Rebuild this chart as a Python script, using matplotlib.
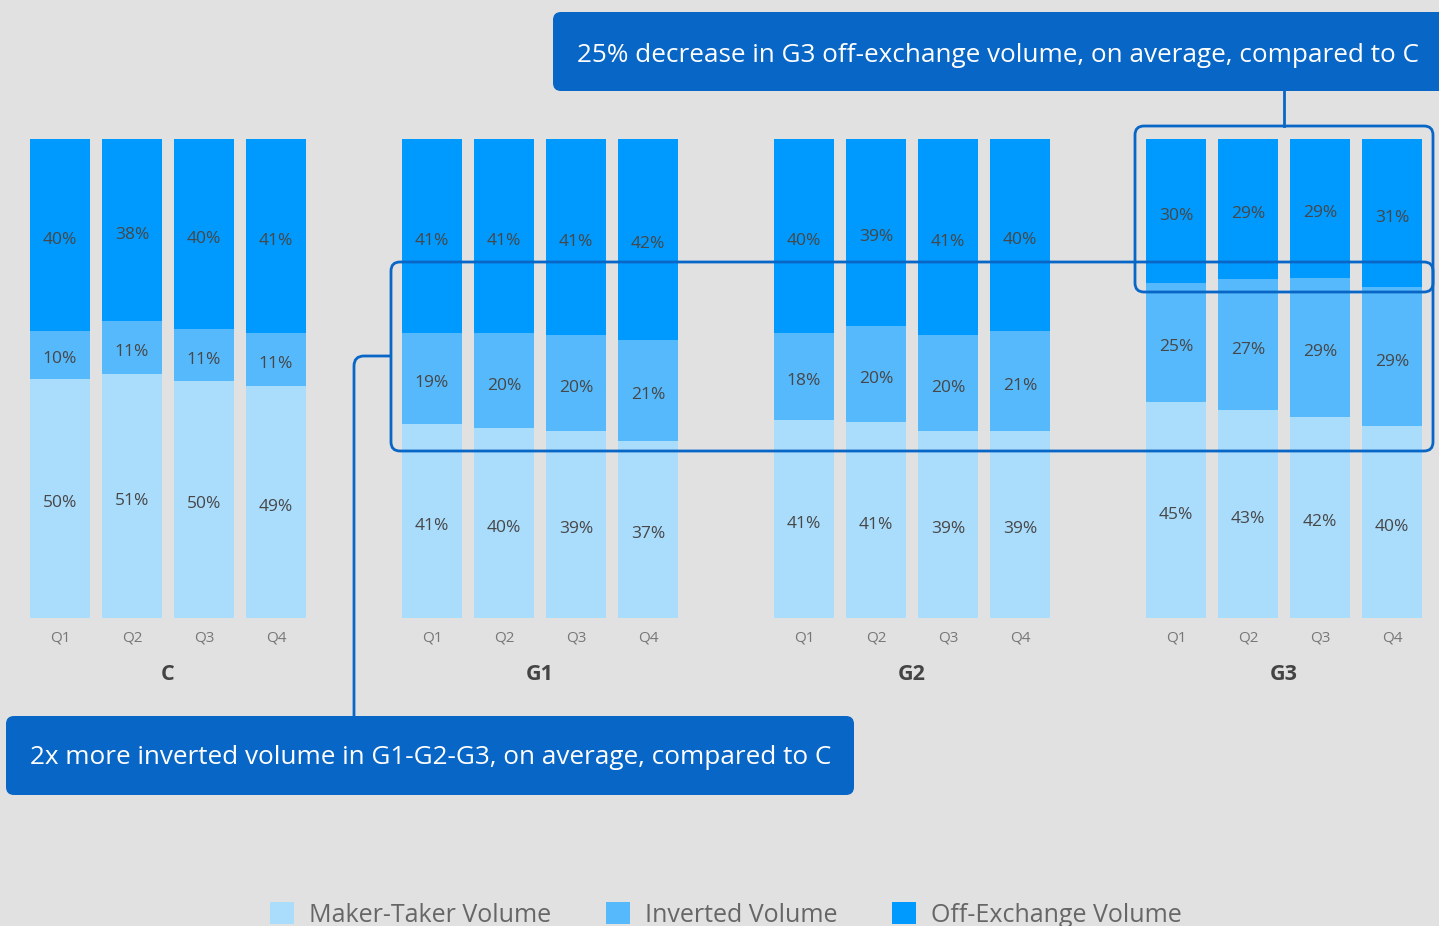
import matplotlib.pyplot as plt
from matplotlib.patches import FancyBboxPatch, PathPatch, Patch
from matplotlib.path import Path
import numpy as np

plt.rcParams["font.family"] = ["Open Sans", "DejaVu Sans"]

# ── data ──────────────────────────────────────────────────────────────────────
groups = ["C", "G1", "G2", "G3"]
quarters = ["Q1", "Q2", "Q3", "Q4"]
maker_taker = [[50, 51, 50, 49], [41, 40, 39, 37], [41, 41, 39, 39], [45, 43, 42, 40]]
inverted = [[10, 11, 11, 11], [19, 20, 20, 21], [18, 20, 20, 21], [25, 27, 29, 29]]
off_exchange = [[40, 38, 40, 41], [41, 41, 41, 42], [40, 39, 41, 40], [30, 29, 29, 31]]
series_names = ["Maker-Taker Volume", "Inverted Volume", "Off-Exchange Volume"]
series_colors = ["#aadcfc", "#56b9fc", "#0099fd"]

note_top = "25% decrease in G3 off-exchange volume, on average, compared to C"
note_bottom = "2x more inverted volume in G1-G2-G3, on average, compared to C"

bg = "#e1e1e1"
box_blue = "#0866c6"
label_color = "#474747"

# ── figure ────────────────────────────────────────────────────────────────────
W, H = 1439, 926
fig = plt.figure(figsize=(W / 100, H / 100), dpi=100, facecolor=bg)
ax = fig.add_axes([0, 0, 1, 1])
ax.set_facecolor(bg)

# bar layout: 1 unit = bar pitch, groups separated by a wider gap
group_step = 372 / 72
bar_width = 60 / 72
ax.set_xlim(-60 / 72, (W - 60) / 72)
ax.set_ylim(-(H - 618) / 4.79, 618 / 4.79)
ax.axis("off")

for g, name in enumerate(groups):
    xs = g * group_step + np.arange(len(quarters))
    stacks = np.array([maker_taker[g], inverted[g], off_exchange[g]], dtype=float)
    shares = stacks / stacks.sum(axis=0) * 100
    bottom = np.zeros(len(quarters))
    for s in range(3):
        ax.bar(xs, shares[s], bar_width, bottom=bottom, color=series_colors[s],
               label=series_names[s] if g == 0 else None)
        for x, b, h, v in zip(xs, bottom, shares[s], stacks[s]):
            ax.text(x, b + h / 2 - 0.6, f"{int(v)}%", ha="center",
                    va="center_baseline", fontsize=12.5, color=label_color)
        bottom += shares[s]
    for x, q in zip(xs, quarters):
        ax.text(x, -3.8, q, ha="center", va="center_baseline", fontsize=11,
                color="#777777")
    ax.text(xs.mean(), -11.3, name, ha="center", va="center_baseline", fontsize=15.5,
            fontweight="bold", color="#444444")

ax.legend(loc="center", bbox_to_anchor=(0.5045, 0.012), ncol=3, frameon=False,
          fontsize=18, labelcolor="#666666", handlelength=0.95, handleheight=0.95,
          columnspacing=2.2, handletextpad=0.6)

# ── call-outs (overlay in pixel coordinates) ─────────────────────────────────
ov = fig.add_axes([0, 0, 1, 1], facecolor="none")
ov.set_xlim(0, W)
ov.set_ylim(H, 0)
ov.axis("off")

def rounded(x0, y0, x1, y1, r, **kw):
    ov.add_patch(FancyBboxPatch((x0, y0), x1 - x0, y1 - y0,
                                boxstyle=f"round,pad=0,rounding_size={r}", **kw))

# outline boxes around highlighted bars
rounded(391, 262, 1433, 451, 9, fill=False, edgecolor=box_blue, lw=2)
rounded(1135, 126, 1433, 292, 9, fill=False, edgecolor=box_blue, lw=2)

# connectors
ov.plot([1284, 1284], [91, 126], color=box_blue, lw=2)
conn = Path([(354, 716), (354, 366), (354, 356), (364, 356), (391, 356)],
            [Path.MOVETO, Path.LINETO, Path.CURVE3, Path.CURVE3, Path.LINETO])
ov.add_patch(PathPatch(conn, fill=False, edgecolor=box_blue, lw=2))

# text boxes
rounded(553, 12, 1460, 91, 8, facecolor=box_blue, edgecolor="none")
ov.text(577, 52, note_top, ha="left", va="center_baseline", fontsize=18.8, color="white")
rounded(6, 716, 854, 795, 8, facecolor=box_blue, edgecolor="none")
ov.text(30, 754, note_bottom, ha="left", va="center_baseline", fontsize=18.8,
        color="white")

fig.savefig("out.png", dpi=100, facecolor=bg)
